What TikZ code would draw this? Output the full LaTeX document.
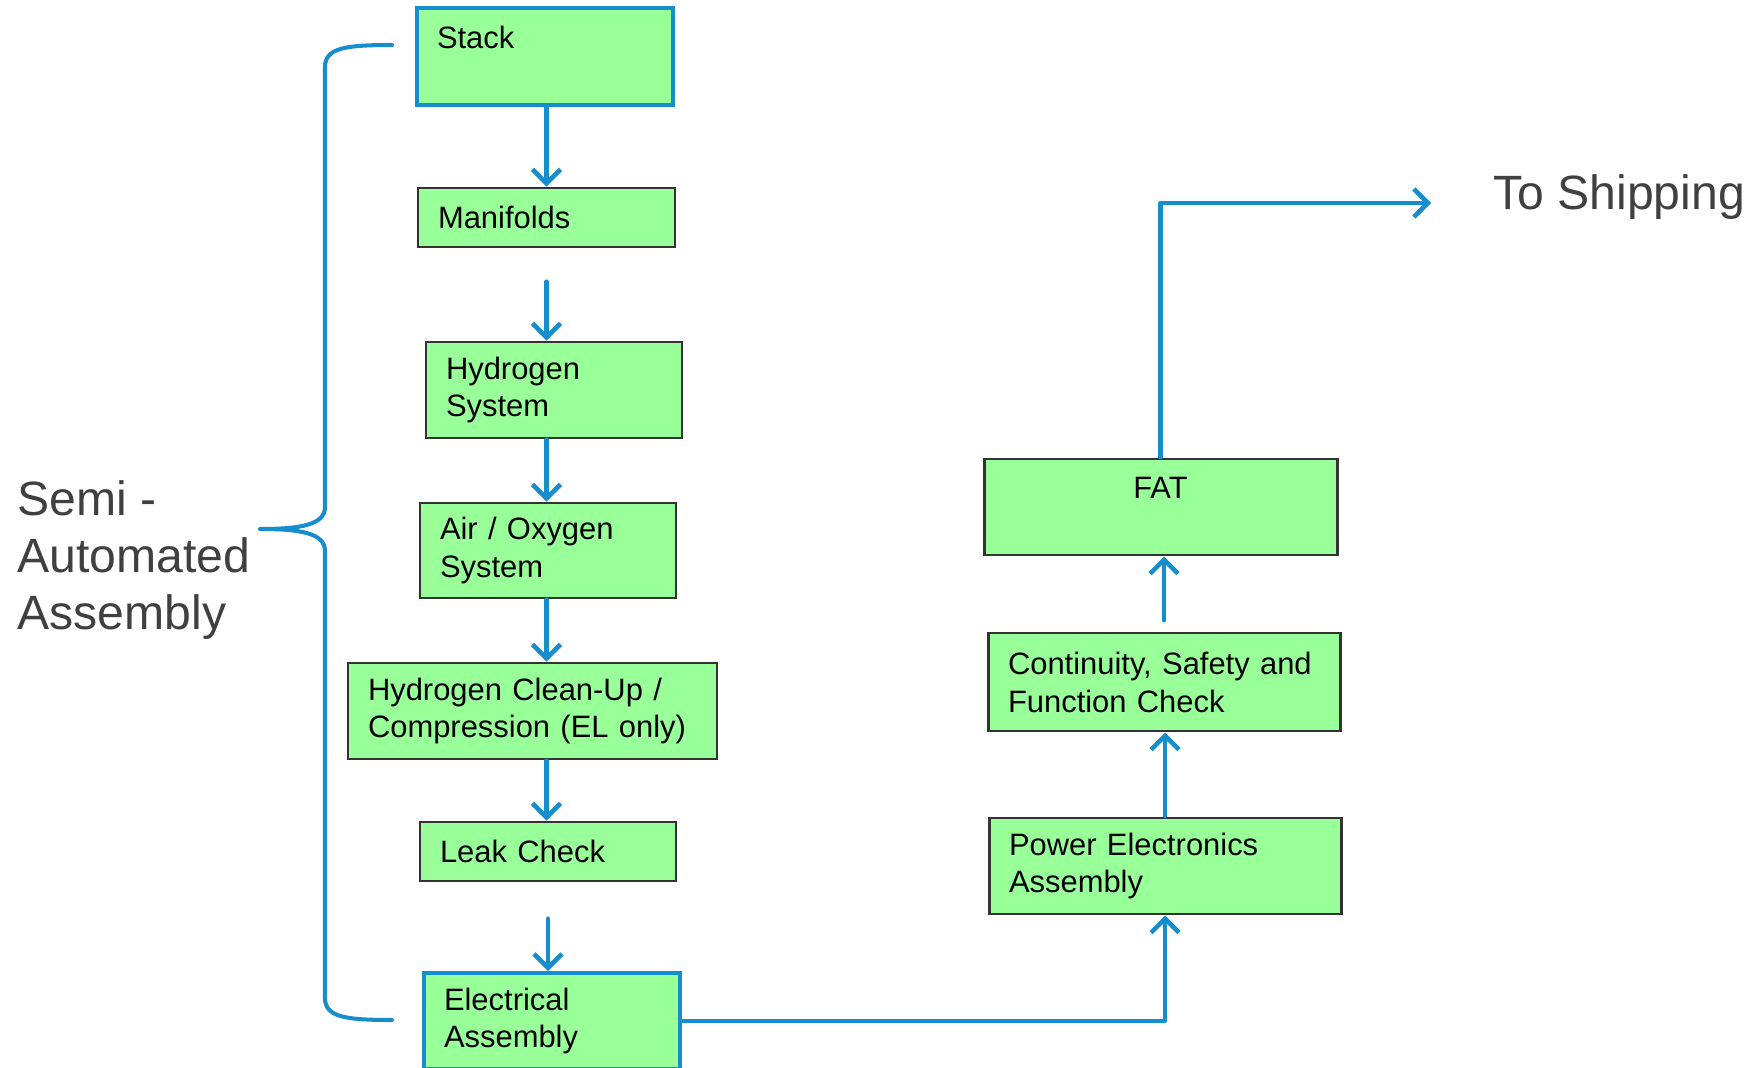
\documentclass[tikz,border=0pt]{standalone}
\usepackage{fontspec}
\setmainfont{Liberation Sans}
\usetikzlibrary{arrows.meta,calc}
\definecolor{flowblue}{RGB}{22,141,204}
\definecolor{boxgreen}{RGB}{153,255,153}
\definecolor{txtgray}{RGB}{64,64,64}
\tikzset{
	box/.style={draw=black!80, line width=0.85pt, fill=boxgreen, inner xsep=0.2cm, inner ysep=0pt,
		align=left, font=\fontsize{8.8}{10.8}\selectfont},
	bluebox/.style={box, draw=flowblue, line width=1.1pt},
	flow/.style={draw=flowblue, line width=1.15pt, line cap=round, line join=round,
		-{Straight Barb[length=1.4mm,width=2.8mm,line width=1.3pt]}},
	bigtext/.style={text=txtgray, align=left, font=\fontsize{13.7}{16.2}\selectfont}
}
\begin{document}
\begin{tikzpicture}
	\useasboundingbox (0,0) rectangle (17.57,10.67);
	% left column
	\node[bluebox, text width=2.16cm, minimum height=0.97cm] (stack) at (5.45,10.105) {Stack\\~};
	\node[box, text width=2.17cm, minimum height=0.59cm] (manif) at (5.465,8.495) {Manifolds};
	\node[box, text width=2.16cm, minimum height=0.96cm] (hydro) at (5.54,6.77) {Hydrogen\\System};
	\node[box, text width=2.16cm, minimum height=0.95cm] (air) at (5.48,5.165) {Air / Oxygen\\System};
	\node[box, text width=3.29cm, minimum height=0.96cm] (clean) at (5.325,3.56) {Hydrogen Clean-Up /\\Compression (EL only)};
	\node[box, text width=2.16cm, minimum height=0.59cm] (leak) at (5.48,2.155) {Leak Check};
	\node[bluebox, text width=2.16cm, minimum height=0.96cm] (elec) at (5.52,0.46) {Electrical\\Assembly};
	% right column
	\node[box, text width=3.13cm, minimum height=0.96cm, align=center] (fat) at (11.605,5.6) {FAT\\~};
	\node[box, text width=3.12cm, minimum height=0.98cm] (cont) at (11.64,3.85) {Continuity, Safety and\\Function Check};
	\node[box, text width=3.12cm, minimum height=0.96cm] (power) at (11.65,2.01) {Power Electronics\\Assembly};
	% texts
	\node[bigtext, anchor=west] (semi) at (0.05,5.066) {Semi -\\Automated\\Assembly};
	\node[bigtext, anchor=west] (ship) at (14.81,8.70) {To Shipping};
	\coordinate (shipend) at (14.31,8.64);
	% arrows
	\foreach \a/\b in {stack/manif,hydro/air,air/clean,clean/leak}
	\draw[flow] (\a.south -| manif.south) -- (\b.north -| manif.south);
	\draw[flow, shorten <=0.33cm] (manif.south) -- (manif.south |- hydro.north);
	\draw[flow, shorten <=0.36cm] (leak.south) -- (leak.south |- elec.north);
	\draw[flow] (elec.east) -| (power.south);
	\draw[flow] (power.north) -- (power.north |- cont.south);
	\draw[flow, shorten <=0.11cm] (cont.north) -- (cont.north |- fat.south);
	\draw[flow] (fat.north) |- (shipend);
	% brace
	\draw[flowblue, line width=1.15pt, line cap=round, line join=round]
	(3.92,10.22) .. controls (3.45,10.22) and (3.25,10.19) .. (3.25,10.0) -- (3.25,5.6)
	.. controls (3.25,5.42) and (3.0,5.38) .. (2.60,5.38)
	.. controls (3.0,5.38) and (3.25,5.34) .. (3.25,5.16) -- (3.25,0.69)
	.. controls (3.25,0.5) and (3.45,0.47) .. (3.92,0.47);
\end{tikzpicture}
\end{document}
